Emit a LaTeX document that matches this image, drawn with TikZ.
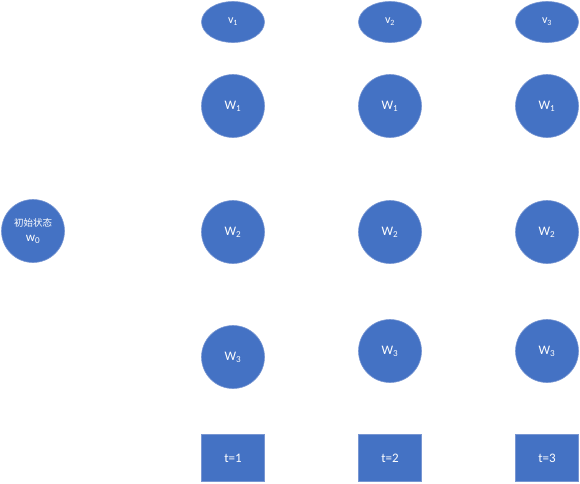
\documentclass[tikz,border=0pt]{standalone}
\usepackage{fontspec}
\setmainfont{Carlito}
\newfontfamily\cjk{Noto Sans CJK SC}
\usepackage{xcolor}
\usetikzlibrary{shapes.geometric}
\definecolor{stateblue}{RGB}{68, 114, 196}
\definecolor{stateedge}{RGB}{120, 150, 210}

\begin{document}
\begin{tikzpicture}[x=1pt, y=-1pt,
  state/.style={circle, fill=stateblue, draw=stateedge, line width=0.6pt,
    minimum size=63pt, inner sep=0pt, align=center, text=white,
    font=\fontsize{13}{15}\selectfont},
  obs/.style={ellipse, fill=stateblue, draw=stateedge, line width=0.6pt,
    minimum width=63pt, minimum height=41pt, inner sep=0pt, text=white,
    font=\fontsize{12}{14}\selectfont},
  tbox/.style={rectangle, fill=stateblue, draw=stateedge, line width=0.6pt,
    minimum width=63pt, minimum height=47pt, inner sep=0pt, text=white,
    font=\fontsize{13}{15}\selectfont}
]
  \useasboundingbox (0,0) rectangle (580,483);

  \node[state, font=\fontsize{9.5}{15}\selectfont] (w0) at (33,231)
    {{\cjk 初始状态}\\{\fontsize{13}{15}\selectfont w\textsubscript{0}}};

  \node[obs] (v1) at (233,22) {v\textsubscript{1}};
  \node[obs] (v2) at (390,22) {v\textsubscript{2}};
  \node[obs] (v3) at (547,22) {v\textsubscript{3}};

  \node[state] (w11) at (233,106) {W\textsubscript{1}};
  \node[state] (w12) at (390,106) {W\textsubscript{1}};
  \node[state] (w13) at (547,106) {W\textsubscript{1}};

  \node[state] (w21) at (233,232) {W\textsubscript{2}};
  \node[state] (w22) at (390,232) {W\textsubscript{2}};
  \node[state] (w23) at (547,232) {W\textsubscript{2}};

  \node[state] (w31) at (233,357) {W\textsubscript{3}};
  \node[state] (w32) at (390,351) {W\textsubscript{3}};
  \node[state] (w33) at (547,351) {W\textsubscript{3}};

  \node[tbox] (t1) at (233,458) {t=1};
  \node[tbox] (t2) at (390,458) {t=2};
  \node[tbox] (t3) at (547,458) {t=3};
\end{tikzpicture}
\end{document}
